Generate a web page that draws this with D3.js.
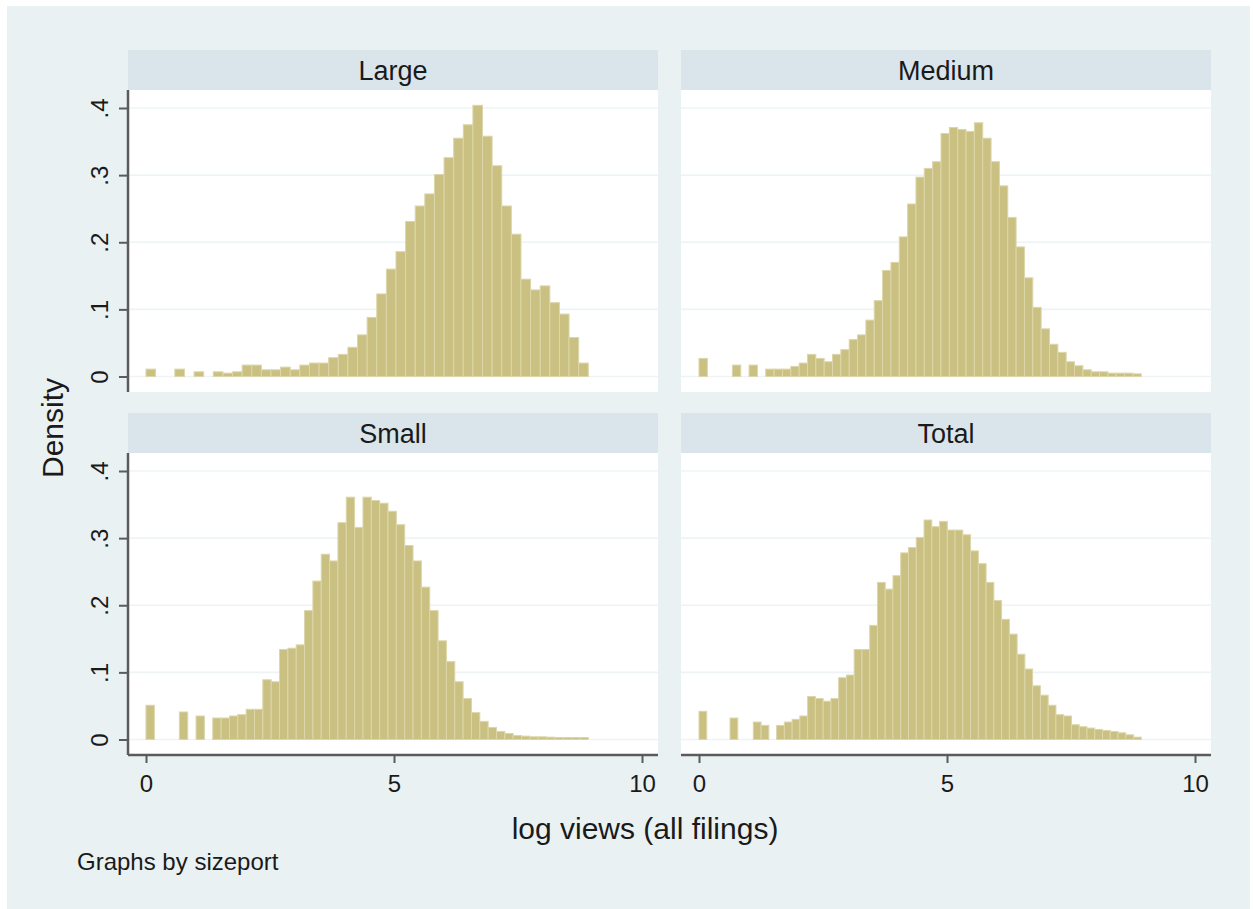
<!DOCTYPE html>
<html>
<head>
<meta charset="utf-8">
<script src="https://cdn.jsdelivr.net/npm/d3@7"></script>
<style>
  body { margin: 0; background: #fff; }
  text { font-family: "Liberation Sans", Arial, Helvetica, sans-serif; fill: #1a1a1a; }
</style>
</head>
<body>
<svg id="chart"></svg>
<script>
// histogram densities, one value per bin (bins start at 0)
const categories = ['Large', 'Medium', 'Small', 'Total'];

const largeDensity = [.011, 0, 0, .011, 0, .007, 0, .007, .005, .007, .017, .017, .010, .010, .014, .010,
  .017, .020, .020, .028, .033, .0435, .062, .088, .123, .160, .186, .231, .254, .272, .301, .326,
  .355, .375, .404, .358, .314, .254, .212, .145, .129, .135, .110, .093, .058, .020];

const mediumDensity = [.027, 0, 0, 0, .017, 0, .017, 0, .011, .011, .011, .015, .020, .033, .027, .022,
  .033, .040, .055, .062, .084, .113, .158, .170, .208, .257, .297, .310, .320, .362, .371, .368,
  .365, .378, .355, .320, .284, .237, .193, .147, .103, .071, .048, .036, .022, .016, .010, .007,
  .007, .005, .005, .005, .004];

const smallDensity = [.051, 0, 0, 0, .041, 0, .035, 0, .032, .032, .035, .037, .045, .045, .089, .086,
  .134, .136, .141, .192, .236, .276, .266, .323, .361, .316, .361, .356, .352, .340, .320, .289,
  .266, .227, .192, .147, .116, .086, .061, .040, .027, .018, .012, .009, .006, .005, .004, .004,
  .0035, .003, .003, .003, .003];

const totalDensity = [.042, 0, 0, 0, .032, 0, 0, .026, .021, 0, .021, .026, .030, .035, .064, .061,
  .057, .061, .092, .096, .134, .134, .170, .234, .224, .244, .278, .286, .301, .327, .317, .325,
  .312, .312, .305, .281, .262, .234, .207, .179, .157, .127, .105, .080, .066, .051, .037, .035,
  .022, .019, .017, .015, .0135, .012, .010, .007, .0035];

const seriesValues = [largeDensity, mediumDensity, smallDensity, totalDensity];

// highest log views value: last bin edge
const binStart = 0;
const binEnd = 8.917;

const yTicks = [0, .1, .2, .3, .4];
const yTickLabels = ['0', '.1', '.2', '.3', '.4'];
const xTicks = [0, 5, 10];
const xTickLabels = ['0', '5', '10'];

const width = 1253, height = 909;
const bg = '#eaf1f3', strip = '#d9e5ea', barFill = '#c9c082', barLine = '#dcd6aa';
const axisColor = '#5b5b5b';

const svg = d3.select('#chart')
    .attr('width', width)
    .attr('height', height);

svg.append('rect')
    .attr('x', 7).attr('y', 6)
    .attr('width', width - 10).attr('height', height - 6)
    .attr('fill', bg);

const panelW = 530, plotH = 302, stripH = 40;
const colX = [128, 681];
const rowY = [50, 413];

categories.forEach((name, k) => {
  const col = k % 2, row = Math.floor(k / 2);
  const left = colX[col], top = rowY[row];

  const g = svg.append('g')
      .attr('transform', 'translate(' + left + ',' + top + ')');

  // header strip
  g.append('rect')
      .attr('width', panelW).attr('height', stripH)
      .attr('fill', strip);
  g.append('text')
      .attr('x', panelW / 2).attr('y', stripH / 2 + 9.5)
      .attr('text-anchor', 'middle')
      .style('font-size', '27px')
      .text(name);

  const plot = g.append('g')
      .attr('transform', 'translate(0,' + stripH + ')');

  plot.append('rect')
      .attr('width', panelW).attr('height', plotH)
      .attr('fill', '#fff');

  const x = d3.scaleLinear().domain([0, 10]).range([18, panelW - 16]);
  const y = d3.scaleLinear().domain([0, .4]).range([plotH - 15.5, 18]);

  // grid
  plot.selectAll('.grid')
      .data(yTicks)
      .enter().append('line')
      .attr('class', 'grid')
      .attr('x1', 0).attr('x2', panelW)
      .attr('y1', (d) => y(d)).attr('y2', (d) => y(d))
      .attr('stroke', '#eef4f5')
      .attr('stroke-width', 1.6);

  // bars
  const values = seriesValues[k];
  const w = (binEnd - binStart) / values.length;
  const bins = values.map((d, i) => ({x0: binStart + i * w, x1: binStart + (i + 1) * w, v: d}))
      .filter((d) => d.v > 0);

  plot.selectAll('.bar')
      .data(bins)
      .enter().append('rect')
      .attr('class', 'bar')
      .attr('x', (d) => x(d.x0))
      .attr('width', (d) => x(d.x1) - x(d.x0))
      .attr('y', (d) => y(d.v))
      .attr('height', (d) => y(0) - y(d.v))
      .attr('fill', barFill)
      .attr('stroke', barLine)
      .attr('stroke-width', 1);

  // y axis on left column
  if (col === 0) {
    const yAxis = plot.append('g')
        .call(d3.axisLeft(y).tickValues(yTicks).tickSize(9).tickSizeOuter(0)
          .tickFormat((d, i) => yTickLabels[i]));
    yAxis.select('.domain').remove();
    yAxis.selectAll('.tick line').attr('stroke', axisColor).attr('stroke-width', 2);
    yAxis.selectAll('.tick text')
        .attr('x', null).attr('dy', null)
        .attr('text-anchor', 'middle')
        .attr('transform', 'translate(-20,0) rotate(-90)')
        .style('font-size', '24px')
        .attr('fill', '#1a1a1a');
    plot.append('line')
        .attr('x1', 0).attr('x2', 0)
        .attr('y1', 0).attr('y2', plotH)
        .attr('stroke', axisColor)
        .attr('stroke-width', 2.5);
  }

  // x axis on bottom row
  if (row === 1) {
    const xAxis = plot.append('g')
        .attr('transform', 'translate(0,' + plotH + ')')
        .call(d3.axisBottom(x).tickValues(xTicks).tickSize(8).tickSizeOuter(0)
          .tickFormat((d, i) => xTickLabels[i]));
    xAxis.select('.domain').remove();
    xAxis.selectAll('.tick line').attr('stroke', axisColor).attr('stroke-width', 2);
    xAxis.selectAll('.tick text')
        .attr('y', 37).attr('dy', null)
        .style('font-size', '24px')
        .attr('fill', '#1a1a1a');
    plot.append('line')
        .attr('x1', 0).attr('x2', panelW)
        .attr('y1', plotH).attr('y2', plotH)
        .attr('stroke', axisColor)
        .attr('stroke-width', 2.5);
  }
});

// titles and note
svg.append('text')
    .attr('transform', 'translate(63,428) rotate(-90)')
    .attr('text-anchor', 'middle')
    .style('font-size', '30px')
    .text('Density');

svg.append('text')
    .attr('x', 645).attr('y', 839)
    .attr('text-anchor', 'middle')
    .style('font-size', '30px')
    .text('log views (all filings)');

svg.append('text')
    .attr('x', 77).attr('y', 870)
    .style('font-size', '24px')
    .text('Graphs by sizeport');
</script>
</body>
</html>
